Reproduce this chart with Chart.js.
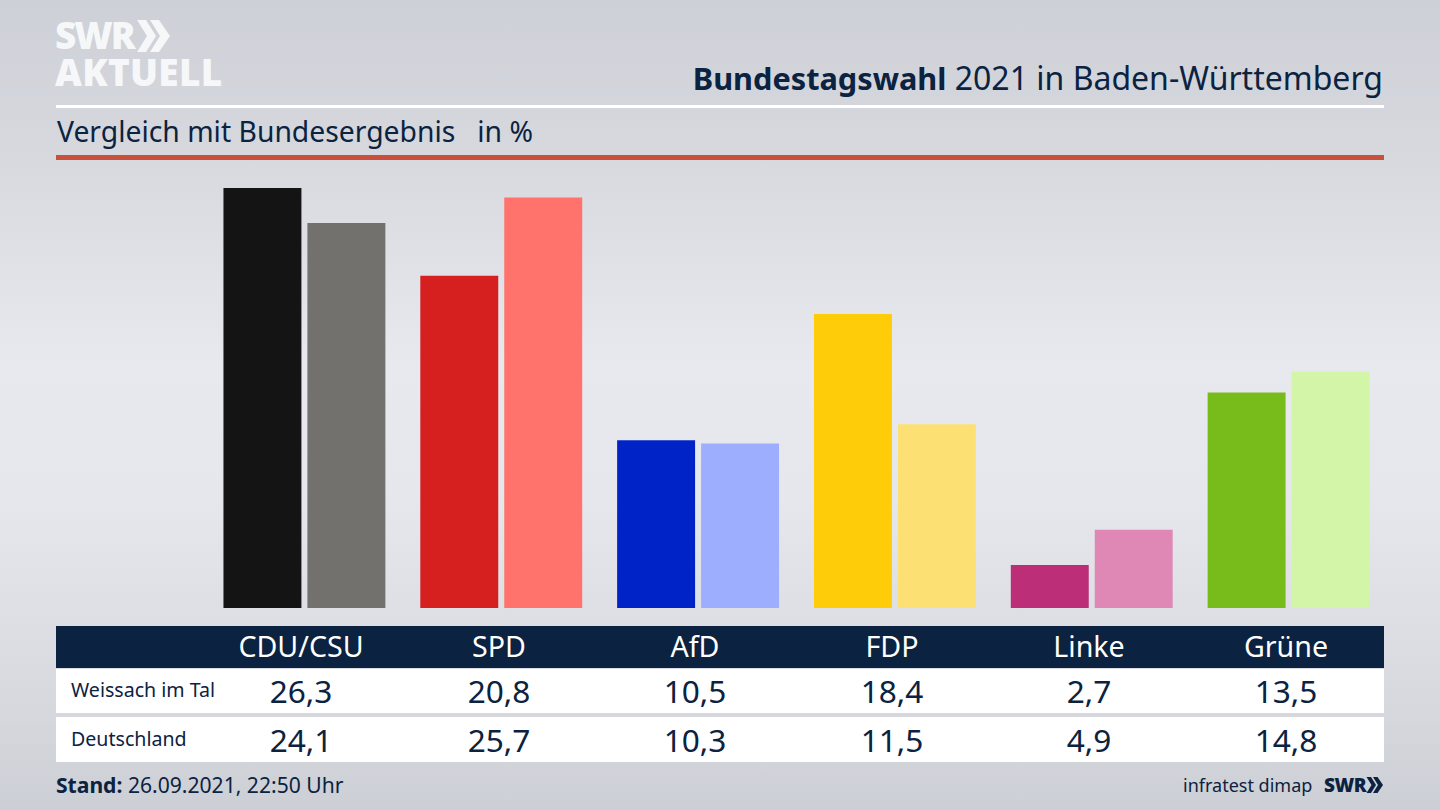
<!DOCTYPE html>
<html lang="de">
<head>
<meta charset="utf-8">
<title>Bundestagswahl 2021 in Baden-Württemberg</title>
<script src="https://cdn.jsdelivr.net/npm/chart.js@4"></script>
<style>
  html, body { margin: 0; padding: 0; }
  body {
    width: 1440px; height: 810px; overflow: hidden; position: relative;
    font-family: "Noto Sans", sans-serif; color: #0b2240;
    background: linear-gradient(180deg, #cdd0d6 0%, #d6d8de 18%, #e8e9ee 45%, #e6e7ec 62%, #d8dadf 85%, #cccfd5 100%);
  }
  .abs { position: absolute; white-space: nowrap; }
  #chart-box { position: absolute; left: 206px; top: 160px; width: 1181px; height: 448px; }
  .logo { color: #f6f7f9; font-weight: 800; font-family: "Open Sans", sans-serif; }
  .cell { position: absolute; transform: translateX(-50%); white-space: nowrap; }
</style>
</head>
<body>
  <div class="abs logo" style="left:55px;top:12px;font-size:37px;line-height:46px;letter-spacing:-2px">SWR</div>
  <svg class="abs" style="left:137px;top:19px" width="34" height="34" viewBox="0 0 34 32">
    <path d="M0 0 L9 0 L19 16 L9 32 L0 32 L10 16 Z M13 0 L22 0 L33 16 L22 32 L13 32 L23 16 Z" fill="#f6f7f9"/>
  </svg>
  <div class="abs logo" style="left:55px;top:49px;font-size:37px;line-height:46px;letter-spacing:.3px">AKTUELL</div>

  <div class="abs" style="right:57px;top:57px;font-size:32px;line-height:42px"><b style="font-size:30.7px">Bundestagswahl</b> 2021 in Baden-Württemberg</div>
  <div class="abs" style="left:56px;top:105px;width:1328px;height:3px;background:#fff"></div>
  <div class="abs" style="left:57px;top:111px;font-size:28.3px;line-height:40px;white-space:pre">Vergleich mit Bundesergebnis   in %</div>
  <div class="abs" style="left:56px;top:155px;width:1328px;height:5px;background:#c8503c"></div>

  <div id="chart-box"><canvas id="chart"></canvas></div>

  <div class="abs" style="left:56px;top:626px;width:1328px;height:42px;background:#0b2240"></div>
  <div class="abs" style="left:56px;top:669px;width:1328px;height:44px;background:#fff"></div>
  <div class="abs" style="left:56px;top:717px;width:1328px;height:45px;background:#fff"></div>
  <div id="table"></div>

  <div class="abs" style="left:56px;top:770px;font-size:21.1px;line-height:30px"><b>Stand:</b> 26.09.2021, 22:50 Uhr</div>
  <div class="abs" style="left:1183px;top:770px;font-size:18px;line-height:30px">infratest dimap</div>
  <div class="abs" style="left:1324px;top:770px;font-size:19px;line-height:30px;font-weight:800;font-family:'Open Sans',sans-serif;letter-spacing:-.5px">SWR</div>
  <svg class="abs" style="left:1366px;top:777px" width="18" height="16" viewBox="0 0 34 32">
    <path d="M0 0 L9 0 L19 16 L9 32 L0 32 L10 16 Z M13 0 L22 0 L33 16 L22 32 L13 32 L23 16 Z" fill="#0b2240"/>
  </svg>

<script>
const parties = ["CDU/CSU", "SPD", "AfD", "FDP", "Linke", "Grüne"];
const weissach = [26.3, 20.8, 10.5, 18.4, 2.7, 13.5];
const deutschland = [24.1, 25.7, 10.3, 11.5, 4.9, 14.8];
const weissachColors = ["#141414", "#d61f1f", "#0023c8", "#ffcc0a", "#bc2f78", "#78bc1c"];
const deutschlandColors = ["#72716e", "#ff736c", "#9eaeff", "#fde073", "#df88b6", "#d2f5a8"];
const labelCenters = [301, 499, 695, 892, 1089, 1286];

function addCell(text, x, top, size, color) {
  const el = document.createElement("div");
  el.className = "cell";
  el.textContent = text;
  el.style.left = x + "px";
  el.style.top = top + "px";
  el.style.fontSize = size + "px";
  el.style.lineHeight = "42px";
  el.style.color = color;
  document.getElementById("table").appendChild(el);
}

function fmt(v) {
  return v.toFixed(1).replace(".", ",");
}

parties.forEach((p, i) => {
  addCell(p, labelCenters[i], 625, 28.6, "#fff");
  addCell(fmt(weissach[i]), labelCenters[i], 670, 31.6, "#0b2240");
  addCell(fmt(deutschland[i]), labelCenters[i], 719, 31.6, "#0b2240");
});

const rowLabels = ["Weissach im Tal", "Deutschland"];
rowLabels.forEach((r, i) => {
  const el = document.createElement("div");
  el.className = "abs";
  el.textContent = r;
  el.style.left = "71px";
  el.style.top = (i === 0 ? 669 : 718) + "px";
  el.style.fontSize = "19.6px";
  el.style.lineHeight = "42px";
  document.getElementById("table").appendChild(el);
});

new Chart(document.getElementById("chart"), {
  type: "bar",
  data: {
    labels: parties,
    datasets: [
      { label: "Weissach im Tal", data: weissach, backgroundColor: weissachColors },
      { label: "Deutschland", data: deutschland, backgroundColor: deutschlandColors }
    ]
  },
  options: {
    responsive: true,
    maintainAspectRatio: false,
    animation: false,
    categoryPercentage: 0.853,
    barPercentage: 0.9286,
    layout: { padding: 0 },
    plugins: { legend: { display: false }, tooltip: { enabled: false } },
    scales: {
      x: { display: false },
      y: { display: false, min: 0, max: 28.05 }
    }
  }
});
</script>
</body>
</html>
